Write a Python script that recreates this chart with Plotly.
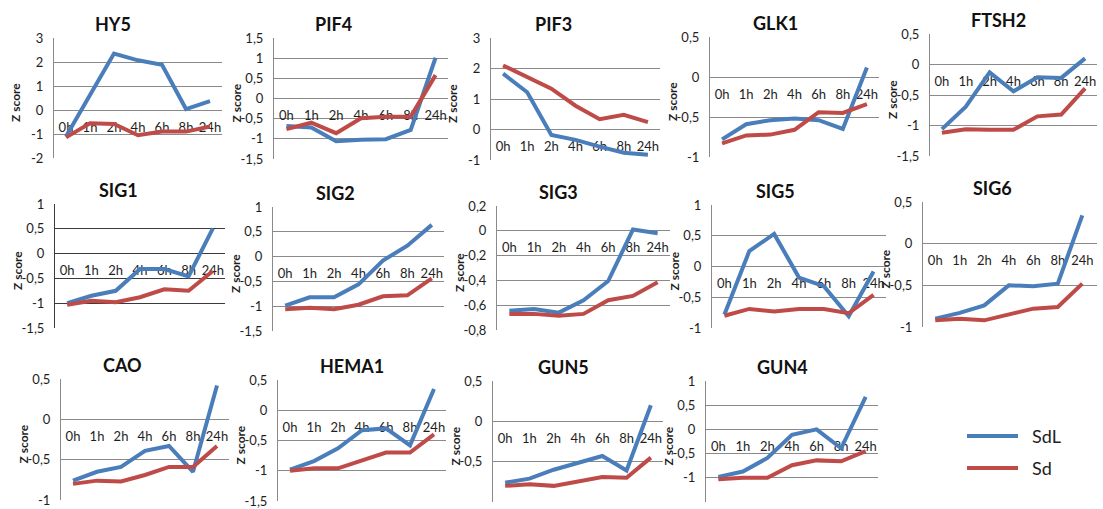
import plotly.graph_objects as go

W, H = 1103, 509

times = ["0h", "1h", "2h", "4h", "6h", "8h", "24h"]
genes = ["HY5", "PIF4", "PIF3", "GLK1", "FTSH2",
         "SIG1", "SIG2", "SIG3", "SIG5", "SIG6",
         "CAO", "HEMA1", "GUN5", "GUN4"]

# Z scores per gene: SdL (blue) and Sd (red)
sdl_hy5 = [-1.1, 0.6, 2.35, 2.07, 1.88, 0.04, 0.37]
sd_hy5 = [-1.14, -0.55, -0.58, -1.05, -0.9, -0.9, -0.69]
sdl_pif4 = [-0.68, -0.72, -1.06, -1.02, -1.01, -0.78, 1.01]
sd_pif4 = [-0.76, -0.6, -0.86, -0.49, -0.45, -0.45, 0.58]
sdl_pif3 = [1.83, 1.22, -0.18, -0.34, -0.56, -0.76, -0.83]
sd_pif3 = [2.1, 1.72, 1.34, 0.78, 0.34, 0.48, 0.24]
sdl_glk1 = [-0.78, -0.59, -0.54, -0.52, -0.54, -0.65, 0.12]
sd_glk1 = [-0.83, -0.73, -0.72, -0.66, -0.44, -0.45, -0.34]
sdl_ftsh2 = [-1.06, -0.69, -0.13, -0.44, -0.21, -0.22, 0.1]
sd_ftsh2 = [-1.12, -1.06, -1.07, -1.07, -0.85, -0.82, -0.39]
sdl_sig1 = [-1.0, -0.85, -0.75, -0.31, -0.31, -0.46, 0.51]
sd_sig1 = [-1.03, -0.95, -0.98, -0.88, -0.72, -0.75, -0.35]
sdl_sig2 = [-0.99, -0.82, -0.82, -0.56, -0.08, 0.22, 0.64]
sd_sig2 = [-1.06, -1.03, -1.06, -0.97, -0.8, -0.78, -0.44]
sdl_sig3 = [-0.645, -0.63, -0.66, -0.56, -0.405, 0.01, -0.02]
sd_sig3 = [-0.67, -0.67, -0.685, -0.67, -0.56, -0.525, -0.415]
sdl_sig5 = [-0.78, 0.25, 0.53, -0.18, -0.32, -0.81, -0.08]
sd_sig5 = [-0.8, -0.69, -0.73, -0.69, -0.69, -0.76, -0.46]
sdl_sig6 = [-0.9, -0.83, -0.74, -0.5, -0.51, -0.48, 0.34]
sd_sig6 = [-0.92, -0.9, -0.92, -0.85, -0.78, -0.76, -0.48]
sdl_cao = [-0.76, -0.65, -0.59, -0.39, -0.33, -0.65, 0.42]
sd_cao = [-0.8, -0.76, -0.77, -0.69, -0.59, -0.59, -0.33]
sdl_hema1 = [-0.98, -0.84, -0.63, -0.33, -0.3, -0.58, 0.35]
sd_hema1 = [-1.0, -0.96, -0.96, -0.83, -0.7, -0.7, -0.4]
sdl_gun5 = [-0.76, -0.71, -0.6, -0.52, -0.43, -0.61, 0.2]
sd_gun5 = [-0.8, -0.78, -0.8, -0.75, -0.69, -0.7, -0.45]
sdl_gun4 = [-0.98, -0.87, -0.59, -0.11, 0.0, -0.39, 0.67]
sd_gun4 = [-1.03, -1.0, -1.0, -0.74, -0.64, -0.66, -0.45]

sdl_values = [sdl_hy5, sdl_pif4, sdl_pif3, sdl_glk1, sdl_ftsh2,
              sdl_sig1, sdl_sig2, sdl_sig3, sdl_sig5, sdl_sig6,
              sdl_cao, sdl_hema1, sdl_gun5, sdl_gun4]
sd_values = [sd_hy5, sd_pif4, sd_pif3, sd_glk1, sd_ftsh2,
             sd_sig1, sd_sig2, sd_sig3, sd_sig5, sd_sig6,
             sd_cao, sd_hema1, sd_gun5, sd_gun4]

# value-axis scale of each small chart
y_low = [-2, -1.5, -1, -1, -1.5, -1.5, -1.5, -0.8, -1, -1, -1, -1.5, -1, -1.5]
y_high = [3, 1.5, 3, 0.5, 0.5, 1, 1, 0.2, 1, 0.5, 0.5, 0.5, 0.5, 1]
y_step = [1, 0.5, 1, 0.5, 0.5, 0.5, 0.5, 0.2, 0.5, 0.5, 0.5, 0.5, 0.5, 0.5]

series_names = ["SdL", "Sd"]
series_colors = ["#4A7EBB", "#BE4B48"]

# plot-area boxes in pixels: left, top, right, bottom, title centre x
boxes = [
    (54, 38, 222, 158, 113), (274, 38, 448, 159, 333), (491, 38, 660, 160, 553),
    (710, 37, 879, 157, 775), (930, 34, 1097, 156, 998),
    (55, 204, 225, 328, 118), (273, 207, 444, 331, 335), (497, 206, 670, 330, 558),
    (712, 205, 886, 328, 775), (923, 202, 1097, 327, 992),
    (61, 379, 229, 500, 122), (278, 380, 446, 501, 352), (493, 381, 663, 502, 563),
    (706, 381, 878, 502, 782),
]
# visible end of the category range (the right-edge chart is trimmed)
x_end = [6.5] * 14
x_end[9] = 6.6

FONT = "Lato"
TXT = "#1e1e1e"


def px_x(v):
    return v / W


def px_y(v):
    return 1 - v / H


def fmt(v):
    v = round(v, 3)
    if abs(v) < 1e-9:
        return "0"
    return ("%g" % v).replace(".", ",")


fig = go.Figure()
annotations = []
layout_axes = {}

for i, gene in enumerate(genes):
    left, top, right, bottom, tx = boxes[i]
    n = "" if i == 0 else str(i + 1)
    xa, ya = "xaxis" + n, "yaxis" + n
    lo, hi, st = y_low[i], y_high[i], y_step[i]
    ticks = []
    k = 0
    while lo + k * st <= hi + 1e-9:
        ticks.append(round(lo + k * st, 3))
        k += 1
    grid_col = "#3a3a3a" if gene == "SIG1" else "#8a8a8a"

    y0p, y1p = px_y(bottom), px_y(top)
    zero_pos = y0p + (0 - lo) / (hi - lo) * (y1p - y0p)

    layout_axes[xa] = dict(
        domain=[px_x(left), px_x(right)], range=[-0.5, x_end[i]],
        anchor="free", position=zero_pos,
        tickmode="array", tickvals=list(range(len(times))), ticktext=times,
        ticks="outside", ticklen=5, tickcolor="rgba(0,0,0,0)",
        showline=False, showgrid=False, zeroline=False,
        tickfont=dict(family=FONT, size=13, color=TXT),
        ticklabeloverflow="allow",
        layer="below traces", fixedrange=True,
    )
    layout_axes[ya] = dict(
        domain=[y0p, y1p], range=[lo, hi], anchor="x" + n,
        tickmode="array", tickvals=ticks, ticktext=[fmt(t) for t in ticks],
        ticks="outside", ticklen=7, tickcolor="rgba(0,0,0,0)",
        showgrid=True, gridcolor=grid_col, gridwidth=1,
        showline=True, linecolor=grid_col, linewidth=1,
        zeroline=False, tickfont=dict(family=FONT, size=13, color=TXT),
        layer="below traces", fixedrange=True,
    )

    for vals, name, col in zip([sdl_values[i], sd_values[i]], series_names, series_colors):
        fig.add_trace(go.Scatter(
            x=list(range(len(times))), y=vals, mode="lines", name=name,
            line=dict(color=col, width=4), xaxis="x" + n, yaxis="y" + n,
            showlegend=False, hoverinfo="skip",
        ))

    annotations.append(dict(
        text="<b>%s</b>" % gene, x=px_x(tx), y=px_y(top - 14), xref="paper", yref="paper",
        showarrow=False, xanchor="center", yanchor="middle",
        font=dict(family=FONT, size=18, color="#111"),
    ))
    annotations.append(dict(
        text="<b>Z score</b>", x=px_x(left - 38), y=px_y((top + bottom) / 2 + 5),
        xref="paper", yref="paper", showarrow=False, textangle=-90,
        xanchor="center", yanchor="middle",
        font=dict(family=FONT, size=12, color=TXT),
    ))

# legend drawn to the right of the last row
shapes = []
for name, col, ly in zip(series_names, series_colors, [436, 468]):
    shapes.append(dict(type="line", xref="paper", yref="paper",
                       x0=px_x(967), x1=px_x(1018), y0=px_y(ly), y1=px_y(ly),
                       line=dict(color=col, width=4)))
    annotations.append(dict(text=name, x=px_x(1030), y=px_y(ly), xref="paper", yref="paper",
                            showarrow=False, xanchor="left", yanchor="middle",
                            font=dict(family=FONT, size=18, color=TXT)))

fig.update_layout(
    width=W, height=H, margin=dict(l=0, r=0, t=0, b=0),
    paper_bgcolor="white", plot_bgcolor="white", template="none",
    annotations=annotations, shapes=shapes, showlegend=False,
    **layout_axes,
)

fig.write_html("out.html")
